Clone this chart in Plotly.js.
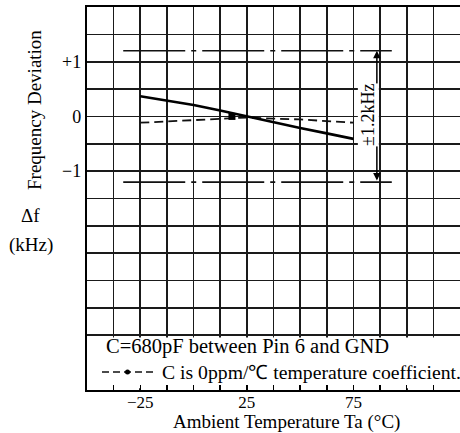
<!DOCTYPE html>
<html>
<head>
<meta charset="utf-8">
<script src="https://cdn.plot.ly/plotly-3.0.1.min.js"></script>
<style>html,body{margin:0;padding:0;background:#fff;}#chart{width:460px;height:433px;}</style>
</head>
<body>
<div id="chart"></div>
<script>
// Ambient temperature (°C)
const temps = [-25, -12.5, 0, 12.5, 25, 37.5, 50, 62.5, 75];
// Frequency deviation (kHz), C = 680pF between Pin 6 and GND
const devC680 = [0.37, 0.29, 0.21, 0.11, 0.0, -0.11, -0.21, -0.31, -0.41];
// Frequency deviation (kHz), C with 0ppm/°C temperature coefficient
const devC0ppm = [-0.115, -0.09, -0.07, -0.04, -0.02, -0.04, -0.055, -0.085, -0.115];
// reference point on the 0ppm curve
const refX = [18];
const refY = [0];
// ±1.2 kHz limit lines
const limitX = [-33, 93];
const limitUpper = [1.2, 1.2];
const limitLower = [-1.2, -1.2];
const limitLabel = '±1.2kHz';
const arrowX = 86;
// axis ticks
const xGridVals = [-50, -37.5, -25, -12.5, 0, 12.5, 25, 37.5, 50, 62.5, 75, 87.5, 100, 112.5, 125];
const xTickText = ['', '', '−25', '', '', '', '25', '', '', '', '75', '', '', '', ''];
const yGridVals = [-5, -4.5, -4, -3.5, -3, -2.5, -2, -1.5, -1, -0.5, 0, 0.5, 1, 1.5, 2];
const yTickText = ['', '', '', '', '', '', '', '', '−1', '', '0', '', '+1', '', ''];

const serif = 'Liberation Serif, Times New Roman, serif';
const dashDot = '62px,6px,5px,6px';

const traces = [
  {x: limitX, y: limitUpper, mode: 'lines', line: {color: '#111', width: 1.6, dash: dashDot}, hoverinfo: 'skip'},
  {x: limitX, y: limitLower, mode: 'lines', line: {color: '#111', width: 1.6, dash: dashDot}, hoverinfo: 'skip'},
  {x: temps, y: devC0ppm, mode: 'lines', line: {color: '#111', width: 1.8, dash: '9px,5px'}},
  {x: temps, y: devC680, mode: 'lines', line: {color: '#000', width: 2.6}},
  {x: refX, y: refY, mode: 'markers', marker: {color: '#000', size: 7, symbol: 'square'}}
];

// pixel -> paper helpers (plot area: left 87, width 373, bottom 390, height 383)
const px = v => (v - 87) / 373;
const py = v => (390 - v) / 383;

const layout = {
  width: 460, height: 433,
  margin: {l: 87, r: 0, t: 7, b: 43},
  paper_bgcolor: '#fff', plot_bgcolor: '#fff',
  showlegend: false,
  font: {family: serif, color: '#000', size: 17},
  xaxis: {
    range: [-50, 125], tickmode: 'array', tickvals: xGridVals, ticktext: xTickText,
    showgrid: true, gridcolor: '#1a1a1a', gridwidth: 1.6,
    showline: true, linecolor: '#000', linewidth: 2, mirror: true,
    ticks: 'inside', ticklen: 5, tickcolor: '#000', tickwidth: 1.5,
    ticklabelstandoff: -4,
    zeroline: false, tickfont: {family: serif, size: 17}, fixedrange: true
  },
  yaxis: {
    range: [-5, 2], tickmode: 'array', tickvals: yGridVals, ticktext: yTickText,
    showgrid: true, gridcolor: '#1a1a1a', gridwidth: 1.6,
    showline: true, linecolor: '#000', linewidth: 2.2,
    ticks: '', zeroline: false, tickfont: {family: serif, size: 18}, fixedrange: true
  },
  shapes: [
    {type: 'rect', xref: 'x', yref: 'y', x0: -50, x1: 125, y0: -4.97, y1: -4.04,
     fillcolor: '#fff', line: {width: 0}, layer: 'between'},
    {type: 'line', xref: 'paper', yref: 'paper', x0: px(102), x1: px(154),
     y0: py(372), y1: py(372),
     line: {color: '#111', width: 1.6, dash: '7px,4px'}},
    {type: 'circle', xref: 'paper', yref: 'paper', x0: px(125), x1: px(130),
     y0: py(374.5), y1: py(369.5),
     fillcolor: '#000', line: {width: 0}}
  ],
  annotations: [
    {x: arrowX, y: 1.2, ax: arrowX, ay: -1.2, xref: 'x', yref: 'y', axref: 'x', ayref: 'y',
     text: '', showarrow: true, arrowhead: 2, startarrowhead: 2, arrowside: 'end+start',
     arrowsize: 1, arrowwidth: 1.5, arrowcolor: '#000'},
    {x: 81.9, y: 0.03, xref: 'x', yref: 'y', text: limitLabel, textangle: -90, showarrow: false,
     xanchor: 'center', yanchor: 'middle',
     font: {family: serif, size: 18, color: '#000'}, bgcolor: '#fff', borderpad: 0},
    {x: px(34), y: py(110), xref: 'paper', yref: 'paper', text: 'Frequency Deviation', textangle: -90,
     xanchor: 'center', yanchor: 'middle', showarrow: false, font: {family: serif, size: 19}},
    {x: px(30), y: py(216), xref: 'paper', yref: 'paper', text: 'Δf', showarrow: false,
     xanchor: 'center', yanchor: 'middle', font: {family: serif, size: 19}},
    {x: px(31), y: py(245), xref: 'paper', yref: 'paper', text: '(kHz)', showarrow: false,
     xanchor: 'center', yanchor: 'middle', font: {family: serif, size: 19}},
    {x: px(104), y: py(346), xref: 'paper', yref: 'paper', text: 'C=680pF between Pin 6 and GND',
     showarrow: false, xanchor: 'left', yanchor: 'middle', font: {family: serif, size: 20.5}},
    {x: px(160), y: py(372), xref: 'paper', yref: 'paper', text: 'C is 0ppm/℃ temperature coefficient.',
     showarrow: false, xanchor: 'left', yanchor: 'middle', font: {family: serif, size: 19.7}},
    {x: px(286), y: py(422), xref: 'paper', yref: 'paper', text: 'Ambient Temperature Ta (°C)',
     showarrow: false, xanchor: 'center', yanchor: 'middle', font: {family: serif, size: 19}}
  ]
};

Plotly.newPlot('chart', traces, layout, {staticPlot: true, displayModeBar: false});
</script>
</body>
</html>
